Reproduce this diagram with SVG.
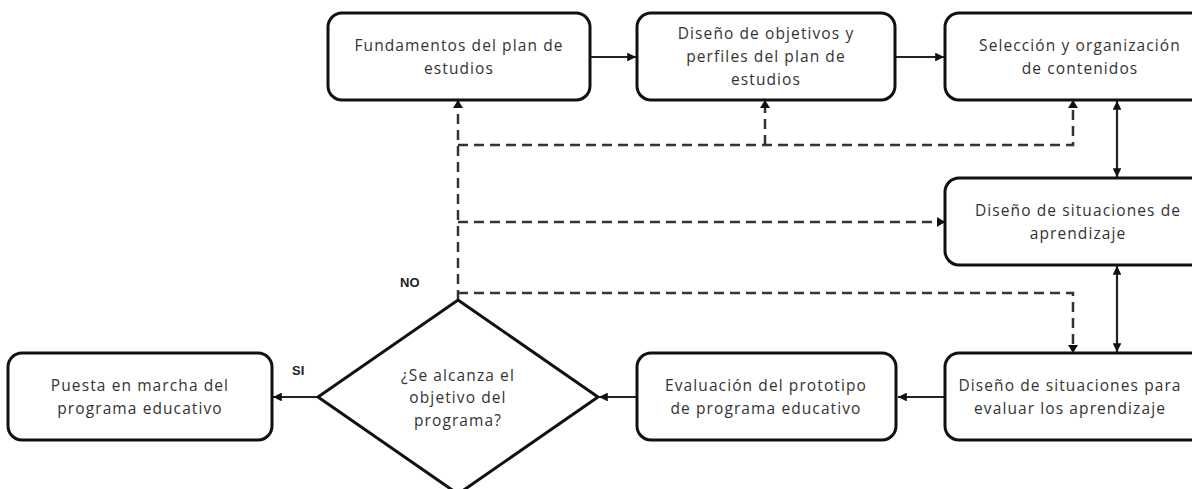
<svg xmlns="http://www.w3.org/2000/svg" width="1192" height="489" viewBox="0 0 1192 489">
<style>
.box{fill:#fff;stroke:#111;stroke-width:3}
.t{font-family:"Open Sans","DejaVu Sans",sans-serif;font-size:15.5px;fill:#333;text-anchor:middle;letter-spacing:1.1px}
.lbl{font-family:"Liberation Sans",Arial,sans-serif;font-size:13px;font-weight:bold;fill:#222}
.s{fill:none;stroke:#222;stroke-width:2.2}
.d{fill:none;stroke:#333;stroke-width:2.5;stroke-dasharray:10 6}
</style>
<defs>
<marker id="ah" viewBox="0 0 10 10" refX="10" refY="5" markerWidth="4" markerHeight="4" orient="auto-start-reverse" markerUnits="strokeWidth">
<path d="M0,0 L10,5 L0,10 z" fill="#111"/>
</marker>
</defs>
<rect width="1192" height="489" fill="#fff"/>
<g id="connectors">
<line class="s" x1="590" y1="57" x2="636" y2="57" marker-end="url(#ah)"/>
<line class="s" x1="895" y1="57" x2="944" y2="57" marker-end="url(#ah)"/>
<line class="s" x1="1117" y1="101" x2="1117" y2="177" marker-start="url(#ah)" marker-end="url(#ah)"/>
<line class="s" x1="1117" y1="266" x2="1117" y2="352" marker-start="url(#ah)" marker-end="url(#ah)"/>
<line class="s" x1="945" y1="397" x2="898" y2="397" marker-end="url(#ah)"/>
<line class="s" x1="637" y1="397" x2="599" y2="397" marker-end="url(#ah)"/>
<line class="s" x1="318" y1="397" x2="273" y2="397" marker-end="url(#ah)"/>
<path class="d" d="M458,300 V101"/>
<path class="d" d="M458,145 H1073 V102"/>
<path class="d" d="M765,145 V102"/>
<path class="d" d="M458,222 H944"/>
<path class="d" d="M458,293 H1073 V351"/>
<path d="M453,108 L458,100 L463,108 z" fill="#111"/>
<path d="M760,108 L765,100 L770,108 z" fill="#111"/>
<path d="M1068,108 L1073,100 L1078,108 z" fill="#111"/>
<path d="M937,217 L945,222 L937,227 z" fill="#111"/>
<path d="M1068,345 L1073,353 L1078,345 z" fill="#111"/>
</g>
<g id="n1"><rect class="box" x="328" y="13" width="262" height="87" rx="14"/>
<text class="t" x="459" y="51">Fundamentos del plan de</text><text class="t" x="459" y="74">estudios</text></g>
<g id="n2"><rect class="box" x="637" y="13" width="258" height="87" rx="14"/>
<text class="t" x="766" y="39">Diseño de objetivos y</text><text class="t" x="766" y="62">perfiles del plan de</text><text class="t" x="766" y="85">estudios</text></g>
<g id="n3"><rect class="box" x="945" y="13" width="270" height="87" rx="14"/>
<text class="t" x="1080" y="51">Selección y organización</text><text class="t" x="1080" y="74">de contenidos</text></g>
<g id="n4"><rect class="box" x="945" y="178" width="270" height="87" rx="14"/>
<text class="t" x="1078" y="216">Diseño de situaciones de</text><text class="t" x="1078" y="239">aprendizaje</text></g>
<g id="n5"><rect class="box" x="945" y="353" width="270" height="87" rx="14"/>
<text class="t" x="1070" y="391">Diseño de situaciones para</text><text class="t" x="1070" y="414">evaluar los aprendizaje</text></g>
<g id="n6"><rect class="box" x="637" y="353" width="259" height="87" rx="14"/>
<text class="t" x="766" y="391">Evaluación del prototipo</text><text class="t" x="766" y="414">de programa educativo</text></g>
<g id="n7"><path class="box" d="M458,300 L598,397 L458,494 L318,397 z"/>
<text class="t" x="458" y="381">¿Se alcanza el</text><text class="t" x="458" y="403">objetivo del</text><text class="t" x="458" y="426">programa?</text></g>
<g id="n8"><rect class="box" x="8" y="353" width="264" height="87" rx="14"/>
<text class="t" x="140" y="391">Puesta en marcha del</text><text class="t" x="140" y="414">programa educativo</text></g>
<text class="lbl" x="400" y="287">NO</text>
<text class="lbl" x="292" y="375">SI</text>
</svg>
